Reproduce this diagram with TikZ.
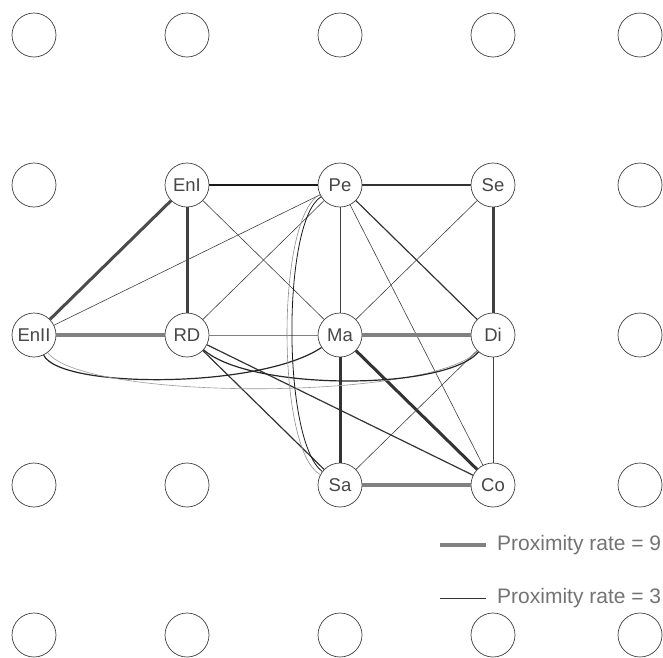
\documentclass[tikz,border=0pt]{standalone}
\usepackage{fontspec}
\setmainfont{Liberation Sans}
\begin{document}
\begin{tikzpicture}[x=1pt,y=-1pt,
  vtx/.style={circle,draw=black!75,line width=0.7pt,fill=white,minimum size=44pt,inner sep=0pt,font=\fontsize{18.5}{18.5}\selectfont,text=black!72},
  ethin/.style={draw=black!75,line width=0.6pt},
  emid/.style={draw=black!80,line width=1.2pt},
  ethick/.style={draw=black!65,line width=3pt},
  egray/.style={draw=black!50,line width=3.6pt},
  lgtext/.style={anchor=west,inner sep=0pt,font=\fontsize{21}{21}\selectfont,text=black!55}
]
\useasboundingbox (0,0) rectangle (663,657);
% empty grid circles
\foreach \i/\x/\y in {a/34/35,b/187/35,c/340/35,d/493/35,e/640/35,
  f/34/185,g/640/185,h/640/335,i/34/485,j/187/485,k/640/485,
  l/34/635,m/187/635,n/340/635,o/493/635,p/640/635}
  \node[vtx] (g\i) at (\x,\y) {};
% labelled vertices
\node[vtx] (EnI) at (187,185) {EnI};
\node[vtx] (Pe) at (340,185) {Pe};
\node[vtx] (Se) at (493,185) {Se};
\node[vtx] (EnII) at (34,335) {EnII};
\node[vtx] (RD) at (187,335) {RD};
\node[vtx] (Ma) at (340,335) {Ma};
\node[vtx] (Di) at (493,335) {Di};
\node[vtx] (Sa) at (340,485) {Sa};
\node[vtx] (Co) at (493,485) {Co};
% edges
\draw[emid,draw=black!90,line width=1.6pt] (EnI) -- (Pe);
\draw[emid] (Pe) -- (Se);
\draw[ethick,draw=black!75] (EnI) -- (RD);
\draw[ethick,draw=black!70] (EnI) -- (EnII);
\draw[ethin] (EnI) -- (Ma);
\draw[ethin] (Pe) -- (EnII);
\draw[ethin] (Pe) -- (RD);
\draw[ethin] (Pe) -- (Ma);
\draw[emid] (Pe) -- (Di);
\draw[ethin] (Pe) -- (Co);
\draw[ethin] (Se) -- (Ma);
\draw[ethick,draw=black!75] (Se) -- (Di);
\draw[egray] (EnII) -- (RD);
\draw[ethin,draw=black!50] (RD) -- (Ma);
\draw[emid] (RD) -- (Sa);
\draw[emid] (RD) -- (Co);
\draw[egray] (Ma) -- (Di);
\draw[ethick,draw=black!80] (Ma) -- (Sa);
\draw[ethick,draw=black!80] (Ma) -- (Co);
\draw[ethin] (Di) -- (Sa);
\draw[ethin] (Di) -- (Co);
\draw[egray] (Sa) -- (Co);
% curved edges
\draw[emid,draw=black!85] (EnII) .. controls (60,389) and (260,389) .. (Ma);
\draw[ethin,draw=black!40] (EnII) .. controls (85,401) and (430,401) .. (Di);
\draw[emid,draw=black!85] (RD) .. controls (250,391) and (445,391) .. (Di);
\draw[ethin,draw=black!90,line width=0.8pt] (Pe) .. controls (282,221) and (282,441) .. (Sa);
\draw[ethin,draw=black!45] (Pe) .. controls (276,216) and (276,451) .. (Sa);
% legend
\coordinate (l1a) at (440,545);
\coordinate (l1b) at (486,545);
\coordinate (l2a) at (440,598);
\coordinate (l2b) at (486,598);
\draw[line width=3.4pt,draw=black!50] (l1a) -- (l1b);
\draw[line width=0.8pt,draw=black!80] (l2a) -- (l2b);
\node[lgtext] (t1) at (497,545) {Proximity rate = 9};
\node[lgtext] (t2) at (497,598) {Proximity rate = 3};
\end{tikzpicture}
\end{document}
